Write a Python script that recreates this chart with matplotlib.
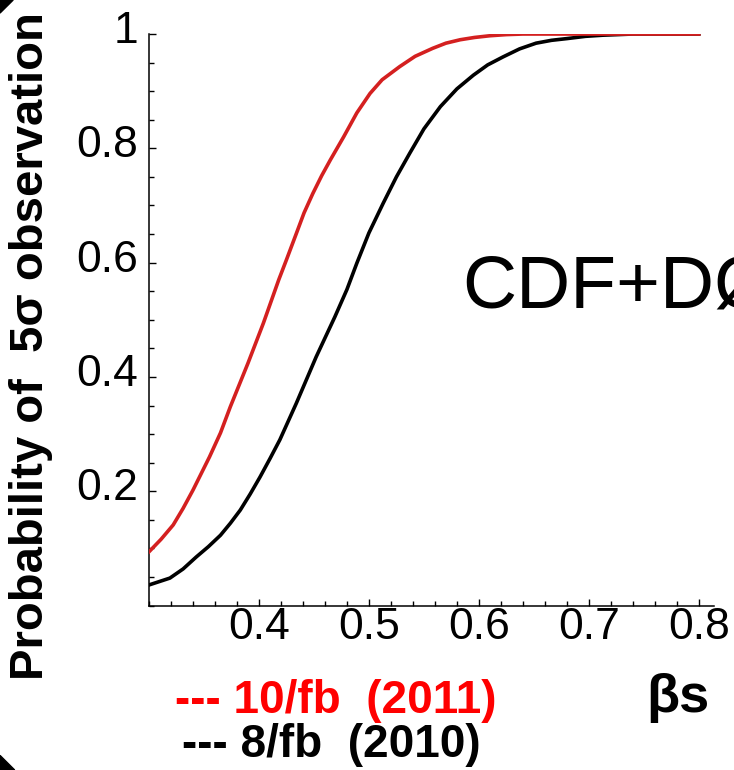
import matplotlib
matplotlib.use("Agg")
import matplotlib.pyplot as plt
import matplotlib.transforms as mtransforms
from matplotlib.patches import Polygon
from matplotlib.ticker import MultipleLocator, FixedLocator

plt.rcParams["font.family"] = ["Liberation Sans", "DejaVu Sans"]

# beta_s values and probability of 5 sigma observation
beta_red = [0.300, 0.311, 0.322, 0.331, 0.340, 0.355, 0.365, 0.374, 0.382, 0.390,
            0.404, 0.418, 0.425, 0.434, 0.441, 0.449, 0.457, 0.465, 0.477, 0.489,
            0.501, 0.512, 0.528, 0.542, 0.558, 0.570, 0.583, 0.596, 0.610, 0.625,
            0.640, 0.700, 0.800]
prob_red = [0.094, 0.116, 0.141, 0.170, 0.202, 0.260, 0.302, 0.348, 0.386, 0.424,
            0.494, 0.570, 0.605, 0.651, 0.687, 0.721, 0.752, 0.780, 0.820, 0.862,
            0.896, 0.920, 0.943, 0.961, 0.975, 0.984, 0.990, 0.994, 0.997, 0.999,
            1.000, 1.000, 1.000]

beta_black = [0.300, 0.319, 0.331, 0.343, 0.354, 0.365, 0.374, 0.383, 0.392, 0.401,
              0.410, 0.419, 0.434, 0.452, 0.469, 0.480, 0.489, 0.500, 0.513, 0.525,
              0.537, 0.550, 0.565, 0.580, 0.595, 0.608, 0.622, 0.637, 0.652, 0.666,
              0.680, 0.697, 0.713, 0.740, 0.800]
prob_black = [0.036, 0.048, 0.064, 0.085, 0.103, 0.123, 0.144, 0.167, 0.195, 0.225,
              0.257, 0.290, 0.354, 0.435, 0.505, 0.553, 0.599, 0.652, 0.704, 0.750,
              0.791, 0.834, 0.873, 0.904, 0.928, 0.946, 0.960, 0.974, 0.984, 0.989,
              0.992, 0.996, 0.998, 1.000, 1.000]

x_ticks = [0.4, 0.5, 0.6, 0.7, 0.8]
x_labels = ["0.4", "0.5", "0.6", "0.7", "0.8"]
y_ticks = [0.2, 0.4, 0.6, 0.8, 1.0]
y_labels = ["0.2", "0.4", "0.6", "0.8", "1"]

fig = plt.figure(figsize=(7.34, 7.70), dpi=100)
ax = fig.add_axes([0.203, 0.2136, 0.770, 0.7422])

ax.plot(beta_black, prob_black, color="black", linewidth=2.6, zorder=2,
        solid_joinstyle="round")
ax.plot(beta_red, prob_red, color="#d42020", linewidth=2.6, zorder=3,
        solid_joinstyle="round")

ax.set_xlim(0.3, 0.814)
ax.set_ylim(0, 1)

ax.spines["top"].set_visible(False)
ax.spines["right"].set_visible(False)
ax.spines["left"].set_linewidth(1.1)
ax.spines["bottom"].set_linewidth(1.1)

ax.xaxis.set_major_locator(FixedLocator(x_ticks))
ax.set_xticklabels(x_labels)
ax.yaxis.set_major_locator(FixedLocator(y_ticks))
ax.set_yticklabels(y_labels)
ax.xaxis.set_minor_locator(MultipleLocator(0.02))
ax.yaxis.set_minor_locator(MultipleLocator(0.05))

ax.tick_params(which="both", direction="in", width=1.0, labelsize=32)
ax.tick_params(which="major", length=5)
ax.tick_params(which="minor", length=3.5)
ax.tick_params(axis="x", pad=1)
ax.tick_params(axis="y", pad=8)

# y tick labels sit a little above their ticks
offset = mtransforms.ScaledTranslation(0, 7 / 100, fig.dpi_scale_trans)
for lab in ax.get_yticklabels():
    lab.set_transform(lab.get_transform() + offset)

fig.text(0.042, 0.55, "Probability of  5σ observation", rotation=90,
         fontsize=34, fontweight="bold", ha="center", va="center")

# the slide text runs off the right edge, as in the original
fig.text(0.63, 0.6, "CDF+DØ", fontsize=54, ha="left", va="baseline")

fig.text(0.923, 0.093, "βs", fontsize=39, fontweight="bold", ha="center", va="center")

fig.text(0.458, 0.090, "--- 10/fb  (2011)", color="#ff0000", fontsize=33,
         fontweight="bold", ha="center", va="center")
fig.text(0.452, 0.032, "--- 8/fb  (2010)", color="black", fontsize=33,
         fontweight="bold", ha="center", va="center")

# dark corners of the original slide
fig.patches.append(Polygon([[0, 1], [0.018, 1], [0, 0.983]], closed=True,
                           transform=fig.transFigure, color="black"))
fig.patches.append(Polygon([[0, 0], [0.02, 0], [0, 0.019]], closed=True,
                           transform=fig.transFigure, color="black"))

fig.savefig("out.png", dpi=100)
plt.close(fig)
